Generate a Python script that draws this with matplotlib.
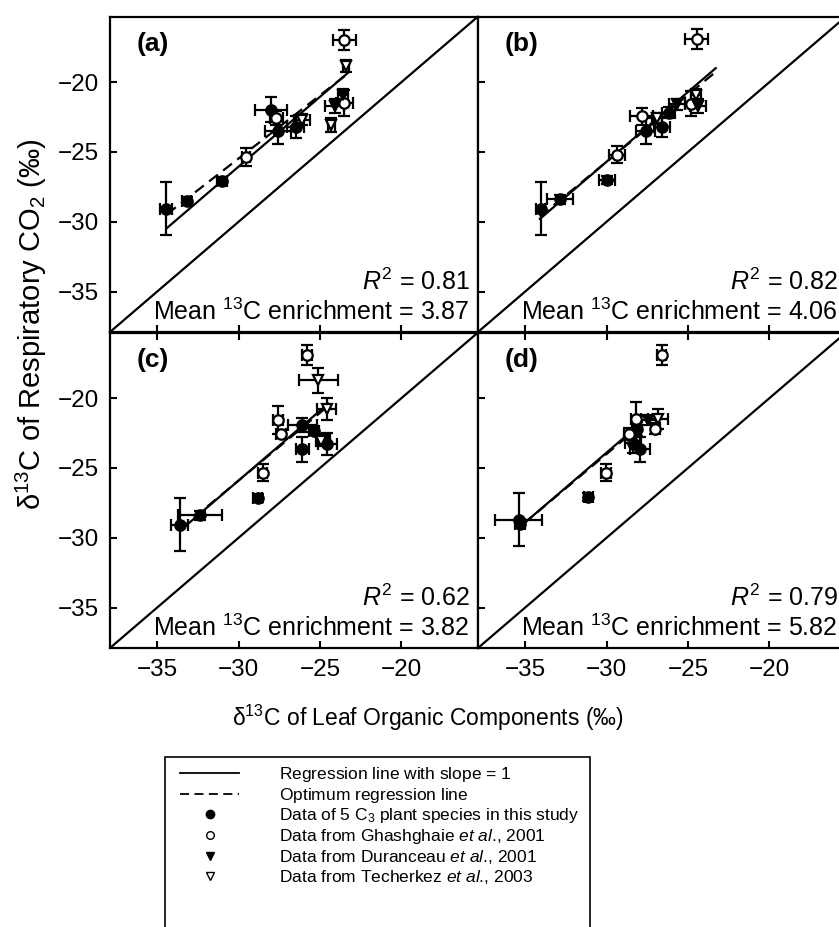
import matplotlib.pyplot as plt
from matplotlib.lines import Line2D
from matplotlib.patches import Rectangle

plt.rcParams['font.family'] = ['Liberation Sans', 'DejaVu Sans']
plt.rcParams['mathtext.fontset'] = 'custom'
plt.rcParams['mathtext.rm'] = 'Liberation Sans'
plt.rcParams['mathtext.it'] = 'Liberation Sans:italic'
plt.rcParams['mathtext.bf'] = 'Liberation Sans:bold'

# points as (x, y, xerr, yerr)
a_study = [(-34.45, -29.06, 0.35, 1.9), (-33.2, -28.5, 0.3, 0.3), (-31.0, -27.1, 0.3, 0.3),
           (-28.0, -21.97, 1.0, 0.9), (-27.6, -23.5, 0.8, 0.9), (-26.5, -23.2, 0.5, 0.8)]
a_ghash = [(-29.55, -25.34, 0.25, 0.65), (-27.7, -22.6, 0.4, 0.5), (-23.5, -17.0, 0.7, 0.7),
           (-23.5, -21.5, 0.5, 0.9)]
a_duran = [(-23.6, -20.9, 0.3, 0.4), (-24.1, -21.7, 0.6, 0.5)]
a_tcher = [(-26.1, -22.7, 0.5, 0.4), (-23.4, -18.85, 0.2, 0.4), (-24.3, -23.05, 0.2, 0.5)]

b_study = [(-34.06, -29.06, 0.3, 1.9), (-32.84, -28.4, 0.8, 0.3), (-29.98, -27.0, 0.5, 0.3),
           (-27.6, -23.5, 0.6, 0.9), (-26.6, -23.2, 0.5, 0.7), (-26.2, -22.2, 0.4, 0.4)]
b_ghash = [(-29.37, -25.2, 0.5, 0.6), (-27.84, -22.45, 0.7, 0.6), (-24.8, -21.56, 0.4, 0.9),
           (-24.47, -16.9, 0.7, 0.7)]
b_duran = [(-25.7, -21.6, 0.5, 0.4), (-24.4, -21.7, 0.5, 0.5)]
b_tcher = [(-24.5, -20.9, 0.3, 0.4), (-26.9, -22.6, 0.3, 0.4)]

c_study = [(-33.63, -29.06, 0.5, 1.9), (-32.35, -28.4, 1.35, 0.3), (-28.84, -27.14, 0.3, 0.3),
           (-26.08, -21.9, 0.9, 0.5), (-26.08, -23.65, 0.4, 0.9), (-25.37, -22.33, 0.3, 0.3),
           (-24.55, -23.3, 0.6, 0.8)]
c_ghash = [(-28.53, -25.34, 0.3, 0.6), (-27.6, -21.6, 0.3, 1.0), (-27.4, -22.57, 0.3, 0.3),
           (-25.78, -16.9, 0.3, 0.7)]
c_duran = [(-24.7, -22.9, 0.3, 0.3)]
c_tcher = [(-24.96, -23.05, 0.3, 0.4), (-24.6, -20.77, 0.6, 0.8), (-25.12, -18.73, 1.2, 0.9)]

d_study = [(-35.4, -28.7, 1.45, 1.9), (-35.3, -29.0, 0.3, 0.3), (-31.12, -27.1, 0.3, 0.3),
           (-28.37, -23.2, 0.5, 0.7), (-27.96, -23.65, 0.6, 0.9), (-28.16, -22.2, 0.3, 0.5)]
d_ghash = [(-30.04, -25.34, 0.3, 0.6), (-28.63, -22.57, 0.3, 0.4), (-28.22, -21.5, 0.3, 1.2),
           (-27.0, -22.2, 0.3, 0.4), (-26.63, -16.9, 0.3, 0.7)]
d_duran = [(-27.45, -21.6, 0.5, 0.3)]
d_tcher = [(-26.84, -21.5, 0.6, 0.7)]

panel_names = ['(a)', '(b)', '(c)', '(d)']
r2_values = [0.81, 0.82, 0.62, 0.79]
enrichment = [3.87, 4.06, 3.82, 5.82]
# regression lines: x range, slope-1 intercept, optimum slope/intercept
fit_xmin = [-34.4, -34.1, -33.6, -35.1]
fit_xmax = [-23.3, -23.3, -24.5, -28.4]
unit_intercept = [3.95, 4.3, 4.1, 6.1]
opt_slope = [0.906, 0.96, 0.97, 0.98]
opt_intercept = [1.71, 3.1, 3.2, 5.4]

y_ticks = [-35, -30, -25, -20]
x_ticks = [-35, -30, -25, -20]
lim = (-37.9, -15.3)

data = [
    (a_study, a_ghash, a_duran, a_tcher),
    (b_study, b_ghash, b_duran, b_tcher),
    (c_study, c_ghash, c_duran, c_tcher),
    (d_study, d_ghash, d_duran, d_tcher),
]
styles = [('o', 'k'), ('o', 'white'), ('v', 'k'), ('v', 'white')]

fig = plt.figure(figsize=(8.39, 9.27), dpi=100)
W, H = 839.0, 927.0
col_x = [110 / W, 478 / W]
row_y = [(H - 332) / H, (H - 648) / H]
aw, ah = 368 / W, 315.5 / H

for i in range(4):
    row, col = i // 2, i % 2
    ax = fig.add_axes([col_x[col], row_y[row], aw, ah])
    ax.set_xlim(lim)
    ax.set_ylim(lim)
    ax.set_xticks(x_ticks)
    ax.set_yticks(y_ticks)
    for s in ax.spines.values():
        s.set_linewidth(1.6)
    ax.tick_params(direction='in', length=5, width=1.5, labelsize=17.5, pad=8,
                   top=(row == 1), bottom=True, left=True, right=False)
    if row == 0:
        ax.set_xticklabels([])
    if col == 1:
        ax.set_yticklabels([])

    ax.axline((-30, -30), slope=1, color='k', lw=1.6, zorder=2)

    xs = [fit_xmin[i], fit_xmax[i]]
    ax.plot(xs, [x + unit_intercept[i] for x in xs], color='k', lw=1.6, zorder=2)
    ax.plot(xs, [opt_slope[i] * x + opt_intercept[i] for x in xs], color='k', lw=1.6,
            dashes=(5, 3), zorder=2)

    for pts, (mk, fc) in zip(data[i], styles):
        px = [p[0] for p in pts]
        py = [p[1] for p in pts]
        pxe = [p[2] for p in pts]
        pye = [p[3] for p in pts]
        ax.errorbar(px, py, xerr=pxe, yerr=pye, fmt=mk, mfc=fc, mec='k', mew=1.6,
                    ms=7.5, ecolor='k', elinewidth=1.6, capsize=4, capthick=1.6, zorder=3)

    ax.text(0.073, 0.952, panel_names[i], transform=ax.transAxes, ha='left', va='top',
            fontsize=19, fontweight='bold')
    ax.text(0.978, 0.159, '$R^2$ = %.2f' % r2_values[i], transform=ax.transAxes,
            ha='right', va='center', fontsize=18)
    ax.text(0.978, 0.063, 'Mean $^{13}$C enrichment = %.2f' % enrichment[i],
            transform=ax.transAxes, ha='right', va='center', fontsize=18)

fig.text(0.037, 0.65, 'δ$^{13}$C of Respiratory CO$_2$ (‰)', rotation=90,
         ha='center', va='center', fontsize=21)
fig.text(428 / W, 1 - 718 / H, 'δ$^{13}$C of Leaf Organic Components (‰)',
         ha='center', va='center', fontsize=16.5)

# legend box
fig.patches.append(Rectangle((165 / W, -0.02), 425 / W, (H - 757) / H + 0.02,
                             transform=fig.transFigure, fill=False, ec='k', lw=1.2))
handles = [
    Line2D([], [], color='k', lw=1.3),
    Line2D([], [], color='k', lw=1.3, dashes=(5, 3)),
    Line2D([], [], ls='none', marker='o', mfc='k', mec='k', ms=6),
    Line2D([], [], ls='none', marker='o', mfc='white', mec='k', ms=5.5),
    Line2D([], [], ls='none', marker='v', mfc='k', mec='k', ms=6),
    Line2D([], [], ls='none', marker='v', mfc='white', mec='k', ms=5.5),
]
# the trailing math space gives every row the same (mathtext) height
labels = [
    'Regression line with slope = 1$\\ $',
    'Optimum regression line$\\ $',
    'Data of 5 C$_3$ plant species in this study',
    'Data from Ghashghaie $et\\ al$., 2001',
    'Data from Duranceau $et\\ al$., 2001',
    'Data from Techerkez $et\\ al$., 2003',
]
fig.legend(handles, labels, loc='upper left', bbox_to_anchor=(180 / W, 1 - 765 / H),
           frameon=False, fontsize=12.5, handlelength=3.4, handletextpad=2.3,
           labelspacing=0.1, borderpad=0, borderaxespad=0)

fig.savefig('out.png', dpi=100)
